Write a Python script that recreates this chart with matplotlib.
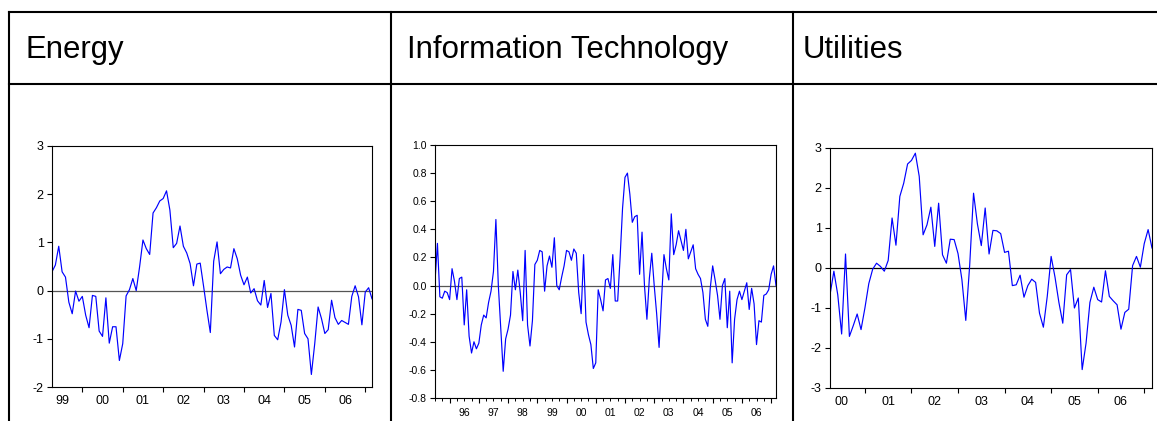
import numpy as np
import matplotlib
matplotlib.use("Agg")
import matplotlib.pyplot as plt
from matplotlib.lines import Line2D
from matplotlib.ticker import FixedLocator, FixedFormatter

plt.rcParams['font.family'] = ['Liberation Sans', 'DejaVu Sans']

titles = ["Energy", "Information Technology", "Utilities"]

# monthly series
energy_start = 1999.25  # April 1999
energy = [0.39, 0.53, 0.92, 0.39, 0.28, -0.24, -0.48, -0.01, -0.22, -0.12, -0.51, -0.77,
          -0.10, -0.12, -0.84, -0.95, -0.15, -1.09, -0.75, -0.75, -1.45, -1.10, -0.11, 0.02,
          0.25, 0.0, 0.49, 1.05, 0.87, 0.75, 1.61, 1.72, 1.86, 1.91, 2.07, 1.67,
          0.89, 0.98, 1.34, 0.92, 0.78, 0.56, 0.10, 0.55, 0.57, 0.09, -0.41, -0.87,
          0.61, 1.01, 0.35, 0.44, 0.49, 0.47, 0.87, 0.66, 0.32, 0.12, 0.28, -0.05,
          0.04, -0.21, -0.30, 0.21, -0.35, -0.06, -0.93, -1.02, -0.65, 0.02, -0.51, -0.72,
          -1.17, -0.39, -0.41, -0.89, -1.00, -1.74, -1.10, -0.34, -0.58, -0.89, -0.81, -0.20,
          -0.56, -0.70, -0.62, -0.66, -0.70, -0.12, 0.10, -0.13, -0.71, -0.03, 0.06, -0.17]
energy_years = ["99", "00", "01", "02", "03", "04", "05", "06"]
energy_year0 = 1999
energy_yticks = [-2, -1, 0, 1, 2, 3]
energy_ylabels = ["-2", "-1", "0", "1", "2", "3"]

it_start = 1995.5  # July 1995
it = [0.03, 0.30, -0.08, -0.09, -0.04, -0.05, -0.10, 0.12, 0.03, -0.10, 0.05, 0.06,
      -0.28, -0.03, -0.36, -0.48, -0.40, -0.45, -0.41, -0.28, -0.21, -0.23, -0.12, -0.04,
      0.10, 0.47, 0.0, -0.30, -0.61, -0.38, -0.31, -0.21, 0.10, -0.03, 0.11, -0.05,
      -0.25, 0.25, -0.28, -0.43, -0.25, 0.15, 0.18, 0.25, 0.24, -0.04, 0.14, 0.21,
      0.13, 0.34, 0.00, -0.03, 0.06, 0.14, 0.25, 0.24, 0.18, 0.26, 0.23, -0.05,
      -0.20, 0.22, -0.26, -0.35, -0.42, -0.59, -0.55, -0.03, -0.10, -0.18, 0.04, 0.05,
      -0.02, 0.22, -0.11, -0.11, 0.20, 0.55, 0.77, 0.80, 0.65, 0.45, 0.49, 0.50,
      0.08, 0.38, 0.0, -0.24, 0.05, 0.23, 0.0, -0.20, -0.44, -0.10, 0.22, 0.12,
      0.04, 0.51, 0.22, 0.29, 0.39, 0.32, 0.25, 0.40, 0.19, 0.24, 0.29, 0.12,
      0.08, 0.05, -0.05, -0.24, -0.29, -0.02, 0.14, 0.04, -0.07, -0.24, 0.00, 0.05,
      -0.30, -0.04, -0.55, -0.24, -0.10, -0.04, -0.10, -0.04, 0.02, -0.17, -0.02, -0.13,
      -0.42, -0.25, -0.26, -0.07, -0.06, -0.03, 0.08, 0.14, 0.0]
it_years = ["96", "97", "98", "99", "00", "01", "02", "03", "04", "05", "06"]
it_year0 = 1996
it_yticks = [-0.8, -0.6, -0.4, -0.2, 0.0, 0.2, 0.4, 0.6, 0.8, 1.0]
it_ylabels = ["-0.8", "-0.6", "-0.4", "-0.2", "0.0", "0.2", "0.4", "0.6", "0.8", "1.0"]

util_start = 2000.25  # April 2000
util = [-0.67, -0.08, -0.67, -1.65, 0.35, -1.71, -1.44, -1.15, -1.54, -1.0, -0.39, -0.03,
        0.12, 0.04, -0.08, 0.19, 1.25, 0.57, 1.79, 2.12, 2.6, 2.69, 2.87, 2.29,
        0.83, 1.08, 1.52, 0.54, 1.62, 0.33, 0.12, 0.72, 0.71, 0.36, -0.29, -1.31,
        0.06, 1.87, 1.1, 0.56, 1.5, 0.35, 0.94, 0.93, 0.86, 0.39, 0.42, -0.44,
        -0.42, -0.18, -0.73, -0.44, -0.28, -0.36, -1.13, -1.48, -0.71, 0.29, -0.23, -0.86,
        -1.38, -0.17, -0.04, -1.0, -0.75, -2.54, -1.88, -0.86, -0.48, -0.79, -0.85, -0.07,
        -0.71, -0.82, -0.92, -1.53, -1.11, -1.03, 0.06, 0.29, 0.02, 0.61, 0.96, 0.5]
util_years = ["00", "01", "02", "03", "04", "05", "06"]
util_year0 = 2000
util_yticks = [-3, -2, -1, 0, 1, 2, 3]
util_ylabels = ["-3", "-2", "-1", "0", "1", "2", "3"]

W, H = 1157, 421
fig = plt.figure(figsize=(W / 100, H / 100), dpi=100)
fig.patch.set_facecolor("white")

def fx(px):
    return px / W

def fy(py):
    return 1 - py / H

# table grid
lw_tab = 1.5
fig.add_artist(Line2D([fx(9), 1], [fy(12), fy(12)], color="black", lw=lw_tab))
fig.add_artist(Line2D([fx(9), 1], [fy(84), fy(84)], color="black", lw=lw_tab))
for xv in (9, 391, 793):
    fig.add_artist(Line2D([fx(xv), fx(xv)], [fy(12), 0], color="black", lw=lw_tab))

for t, xp in zip(titles, (26, 407, 803)):
    fig.text(fx(xp), fy(58), t, fontsize=22.4, va="baseline", ha="left", color="black")


def make_panel(rect, start, vals, years, year0, yticks, ylabels, ylim, fs,
               quarter_ticks, label_pad, zero_color):
    l, r, t, b = rect
    ax = fig.add_axes([fx(l), fy(b), fx(r - l), (b - t) / H])
    x = start + np.arange(len(vals)) / 12.0
    ax.plot(x, vals, color="#0000FF", lw=0.85)
    ax.axhline(0, color=zero_color, lw=0.9, zorder=1)
    ax.set_xlim(x[0], x[-1])
    ax.set_ylim(*ylim)
    ax.set_yticks(yticks)
    ax.set_yticklabels(ylabels, fontsize=fs)
    # year boundaries as major ticks
    bounds = [year0 + i for i in range(len(years) + 1) if x[0] <= year0 + i <= x[-1]]
    ax.xaxis.set_major_locator(FixedLocator(bounds))
    ax.xaxis.set_major_formatter(FixedFormatter([""] * len(bounds)))
    mids = [year0 + i + 0.5 for i in range(len(years))]
    if quarter_ticks:
        pos, labs = [], []
        for i, lab in enumerate(years + [None]):
            for q in (0.25, 0.5, 0.75):
                p = year0 + i + q
                if x[0] <= p <= x[-1]:
                    pos.append(p)
                    labs.append(lab if (q == 0.5 and lab is not None) else "")
        # quarters of first partial year
        for q in (0.75, 0.5, 0.25):
            p = year0 - 1 + q
            if x[0] <= p <= x[-1]:
                pos.insert(0, p)
                labs.insert(0, "")
        ax.xaxis.set_minor_locator(FixedLocator(pos))
        ax.xaxis.set_minor_formatter(FixedFormatter(labs))
        ax.tick_params(axis="x", which="minor", length=2.2, width=0.7,
                       direction="out", labelsize=fs, pad=label_pad)
    else:
        ax.xaxis.set_minor_locator(FixedLocator(mids))
        ax.xaxis.set_minor_formatter(FixedFormatter(years))
        ax.tick_params(axis="x", which="minor", length=0, labelsize=fs, pad=label_pad)
    ax.tick_params(axis="x", which="major", length=3.5, width=0.8, direction="out")
    ax.tick_params(axis="y", which="major", length=3.5, width=0.8, direction="out",
                   pad=2.5)
    for s in ax.spines.values():
        s.set_linewidth(0.8)
        s.set_color("black")
    return ax

make_panel((52, 372, 146, 387), energy_start, energy, energy_years, energy_year0,
           energy_yticks, energy_ylabels, (-2, 3), 9, False, 5.5, "#555555")
make_panel((435, 776, 145, 398), it_start, it, it_years, it_year0,
           it_yticks, it_ylabels, (-0.8, 1.0), 7.5, True, 5.0, "#555555")
make_panel((830, 1152, 148, 388), util_start, util, util_years, util_year0,
           util_yticks, util_ylabels, (-3, 3), 9, False, 6.0, "black")

fig.savefig("out.png", dpi=100)
